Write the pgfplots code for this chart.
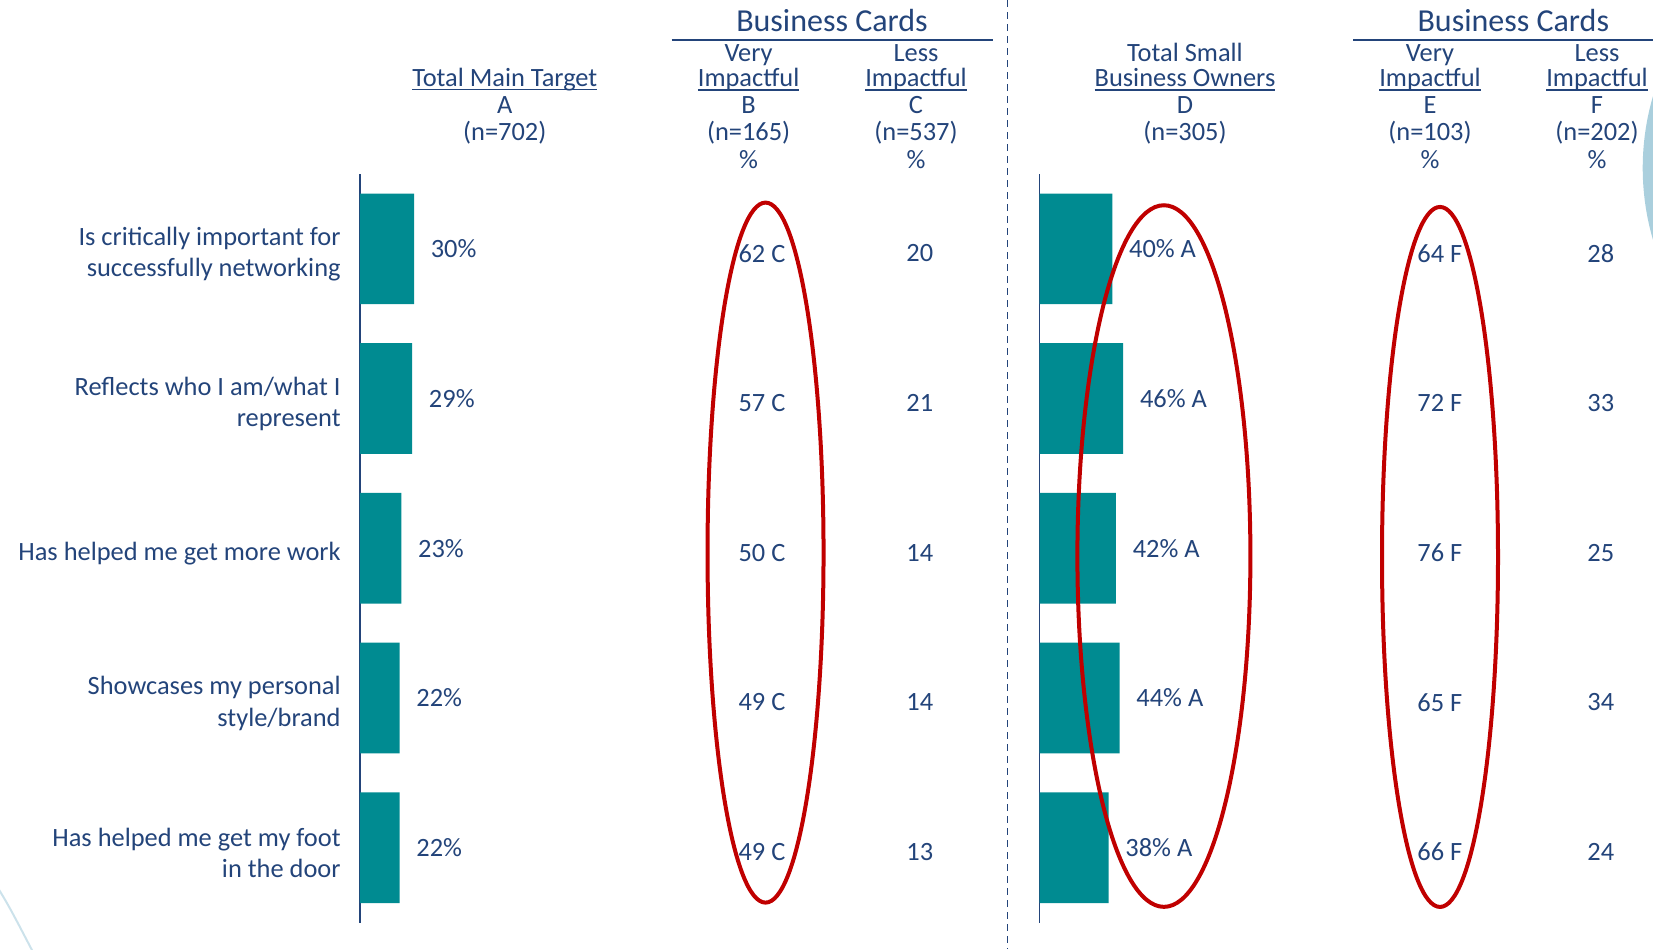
\documentclass[border=0pt]{standalone}
\usepackage{fontspec}
\setmainfont{Carlito}
\usepackage{pgfplots}
\usepackage{pgfplotstable}
\pgfplotsset{compat=1.18}
\definecolor{tblue}{RGB}{35,68,122}
\definecolor{tealbar}{RGB}{0,139,145}
\definecolor{ored}{RGB}{192,0,0}
\definecolor{lblue}{RGB}{170,207,221}
\newcommand{\hul}[1]{\setbox0\hbox{#1}\rlap{\color{tblue}\rule[-2.1pt]{\wd0}{0.85pt}}\box0}
\newcommand{\hf}{\fontsize{13.2}{13.2}\selectfont}

\pgfplotstableread[col sep=comma]{
row,A,B,Blab,C,D,E,Elab,F
1,30,62,62 C,20,40,64,64 F,28
2,29,57,57 C,21,46,72,72 F,33
3,23,50,50 C,14,42,76,76 F,25
4,22,49,49 C,14,44,65,65 F,34
5,22,49,49 C,13,38,66,66 F,24
}\datatab

\begin{document}
\begin{tikzpicture}[hdr/.style={anchor=base, text=tblue, font=\hf, inner sep=0pt}]
\useasboundingbox (0pt,0pt) rectangle (826.5pt,-474.5pt);
% decorations
\fill[lblue] (948.7pt,-84pt) circle (127.35pt);
\draw[lblue!60, line width=1pt] (-6pt,-436pt) .. controls (4pt,-452pt) .. (17pt,-477pt);
\draw[tblue, line width=0.6pt, dash pattern=on 3.5pt off 2.5pt] (503.8pt,0pt) -- (503.8pt,-474.5pt);

% left headers
\node[hdr] at (252.4pt,-43pt) {\hul{Total Main Target}};
\node[hdr] at (252.4pt,-56.5pt) {A};
\node[hdr] at (252.4pt,-70pt) {(n=702)};
\node[hdr, font=\fontsize{16}{16}\selectfont] at (416pt,-15.85pt) {Business Cards};
\draw[tblue, line width=1.35pt] (335.8pt,-20pt) -- (496.3pt,-20pt);
\node[hdr] at (374.3pt,-30.85pt) {Very};
\node[hdr] at (374.3pt,-43.2pt) {\hul{Impactful}};
\node[hdr] at (374.3pt,-56.5pt) {B};
\node[hdr] at (374.3pt,-70pt) {(n=165)};
\node[hdr] at (374.3pt,-84pt) {\%};
\node[hdr] at (458pt,-30.85pt) {Less};
\node[hdr] at (458pt,-43.2pt) {\hul{Impactful}};
\node[hdr] at (458pt,-56.5pt) {C};
\node[hdr] at (458pt,-70pt) {(n=537)};
\node[hdr] at (458pt,-84pt) {\%};
% right headers
\node[hdr] at (592.5pt,-30.85pt) {Total Small};
\node[hdr] at (592.5pt,-43.2pt) {\hul{Business Owners}};
\node[hdr] at (592.5pt,-56.5pt) {D};
\node[hdr] at (592.5pt,-70pt) {(n=305)};
\node[hdr, font=\fontsize{16}{16}\selectfont] at (756.65pt,-15.85pt) {Business Cards};
\draw[tblue, line width=1.35pt] (676.5pt,-20pt) -- (826.5pt,-20pt);
\node[hdr] at (715pt,-30.85pt) {Very};
\node[hdr] at (715pt,-43.2pt) {\hul{Impactful}};
\node[hdr] at (715pt,-56.5pt) {E};
\node[hdr] at (715pt,-70pt) {(n=103)};
\node[hdr] at (715pt,-84pt) {\%};
\node[hdr] at (798.5pt,-30.85pt) {Less};
\node[hdr] at (798.5pt,-43.2pt) {\hul{Impactful}};
\node[hdr] at (798.5pt,-56.5pt) {F};
\node[hdr] at (798.5pt,-70pt) {(n=202)};
\node[hdr] at (798.5pt,-84pt) {\%};

\pgfplotsset{
  txtcol/.style={draw=none, mark=none, nodes near coords, point meta=explicit symbolic,
    nodes near coords align={anchor=center},
    every node near coord/.append style={font=\hf, text=tblue, inner sep=0pt}},
  panel/.style={scale only axis, height=374.25pt,
    ymin=0.5, ymax=5.5, y dir=reverse, enlargelimits=false,
    axis x line=none, axis y line*=left,
    y axis line style={tblue, line width=0.6pt},
    major tick length=0pt, clip=false,
    /pgf/number format/assume math mode=true}
}

\begin{axis}[panel, at={(180pt,-87pt)}, anchor=north west,
  width=315pt, xmin=0, xmax=350,
  ytick={1,2,3,4,5},
  yticklabels={{Is critically important for\\successfully networking},{Reflects who I am/what I\\represent},{Has helped me get more work},{Showcases my personal\\style/brand},{Has helped me get my foot\\in the door}},
  yticklabel style={align=right, font=\fontsize{13.2}{15.8}\selectfont, text=tblue, inner sep=0pt, xshift=-9.5pt, yshift=-2.6pt},
]
\addplot[xbar, bar width=55.35pt, fill=tealbar, draw=none,
  nodes near coords={\pgfmathprintnumber{\pgfplotspointmeta}\%}, point meta=x,
  nodes near coords align={horizontal},
  every node near coord/.append style={font=\hf, text=tblue, inner sep=0pt, xshift=8.2pt}]
  table[x=A, y=row] {\datatab};
\addplot[txtcol] table[x expr=223.3, y expr=\thisrow{row}+0.03, meta=Blab] {\datatab};
\addplot[txtcol] table[x expr=311, y expr=\thisrow{row}+0.03, meta=C] {\datatab};
\draw[ored, line width=2pt] (axis cs:225.3,3.029) ellipse [x radius=29pt, y radius=175pt];
\end{axis}

\begin{axis}[panel, at={(519.75pt,-87pt)}, anchor=north west,
  width=306.67pt, xmin=0, xmax=337, ytick=\empty]
\addplot[xbar, bar width=55.35pt, fill=tealbar, draw=none,
  nodes near coords={\pgfmathprintnumber{\pgfplotspointmeta}\% A}, point meta=x,
  nodes near coords align={horizontal},
  every node near coord/.append style={font=\hf, text=tblue, inner sep=0pt, xshift=8.2pt}]
  table[x=D, y=row] {\datatab};
\addplot[txtcol] table[x expr=220, y expr=\thisrow{row}+0.03, meta=Elab] {\datatab};
\addplot[txtcol] table[x expr=308.4, y expr=\thisrow{row}+0.03, meta=F] {\datatab};
\draw[ored, line width=2pt] (axis cs:68.35,3.052) ellipse [x radius=43.25pt, y radius=175.4pt];
\draw[ored, line width=2pt] (axis cs:220.05,3.058) ellipse [x radius=29pt, y radius=175pt];
\end{axis}
\end{tikzpicture}
\end{document}
